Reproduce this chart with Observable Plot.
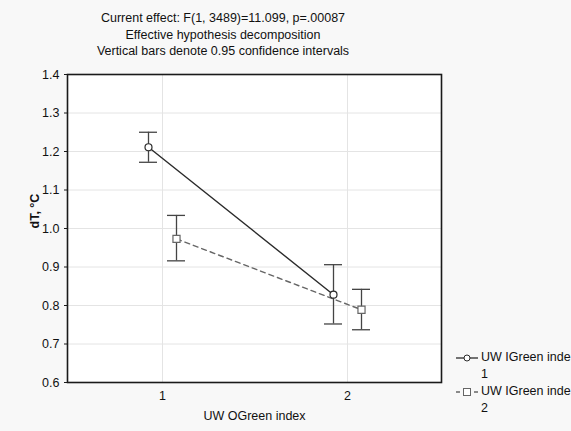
<!DOCTYPE html>
<html><head><meta charset="utf-8">
<script src="https://cdn.jsdelivr.net/npm/d3@7"></script>
<script src="https://cdn.jsdelivr.net/npm/@observablehq/plot@0.6"></script>
<style>
body{margin:0;background:#f8f8f8;font-family:"Liberation Sans",Arial,sans-serif;}
#wrap{position:relative;width:571px;height:431px;overflow:hidden;}
#chart{position:absolute;left:0;top:0;}
#title{position:absolute;left:0;top:10px;width:446px;text-align:center;font-size:12.5px;line-height:16.7px;color:#111;}
#legend{position:absolute;left:455px;top:349px;font-size:12.5px;color:#111;line-height:17px;}
#legend .row{display:flex;align-items:flex-start;}
#legend svg{flex:none;margin-top:3px;}
</style></head><body>
<div id="wrap"><div id="chart"></div><div id="title"></div><div id="legend"></div></div>
<script>
const titleLines = ["Current effect: F(1, 3489)=11.099, p=.00087","Effective hypothesis decomposition","Vertical bars denote 0.95 confidence intervals"];
const categories = ["1","2"];
const seriesNames = ["UW IGreen inde\n1","UW IGreen inde\n2"];
const means1 = [1.211, 0.828];
const lower1 = [1.172, 0.752];
const upper1 = [1.250, 0.906];
const means2 = [0.973, 0.789];
const lower2 = [0.916, 0.737];
const upper2 = [1.034, 0.842];
const yTicks = [0.6,0.7,0.8,0.9,1.0,1.1,1.2,1.3,1.4];
const xLabel = "UW OGreen index";
const yLabel = "dT, °C";

const s1 = categories.map((c,i)=>({cat:c, mean:means1[i], lo:lower1[i], hi:upper1[i]}));
const s2 = categories.map((c,i)=>({cat:c, mean:means2[i], lo:lower2[i], hi:upper2[i]}));

const c1 = "#2b2b2b", c2 = "#666", cb = "#444";
function errMarks(data, dx){
  return [
    Plot.ruleX(data,{x:"cat", y1:"lo", y2:"hi", dx, stroke:cb, strokeWidth:1.3}),
    Plot.tickY(data,{x:"cat", y:"lo", dx, stroke:cb, strokeWidth:1.3}),
    Plot.tickY(data,{x:"cat", y:"hi", dx, stroke:cb, strokeWidth:1.3})
  ];
}
const chart = Plot.plot({
  width:571, height:431,
  marginLeft:67, marginRight:130, marginTop:74, marginBottom:49,
  style:{background:"transparent", fontFamily:"Liberation Sans, Arial, sans-serif", fontSize:"12px", color:"#111"},
  x:{type:"band", domain:categories, paddingInner:0.903, paddingOuter:0.457, align:0.5},
  y:{domain:[0.6,1.4]},
  marks:[
    Plot.frame({fill:"white", stroke:null}),
    Plot.gridX(categories,{stroke:"#e4e4e4", strokeOpacity:1}),
    Plot.gridY(yTicks,{stroke:"#e4e4e4", strokeOpacity:1}),
    Plot.frame({stroke:"#1a1a1a", strokeWidth:1.6}),
    Plot.axisY(yTicks,{tickFormat:d3.format(".1f"), tickSize:3, tickPadding:5, label:null, stroke:"#1a1a1a", fontSize:12.5}),
    Plot.axisX({tickSize:0, tickPadding:9, label:null, fontSize:12.5}),
    Plot.text([yLabel],{frameAnchor:"left", rotate:-90, dx:-33, fontWeight:"bold", fontSize:12.5}),
    Plot.text([xLabel],{frameAnchor:"bottom", dy:37, fontSize:12.5}),
    Plot.line(s1,{x:"cat", y:"mean", dx:-14, stroke:c1, strokeWidth:1.4}),
    Plot.line(s2,{x:"cat", y:"mean", dx:14, stroke:c2, strokeWidth:1.4, strokeDasharray:"5,4"}),
    ...errMarks(s1,-14),
    ...errMarks(s2,14),
    Plot.dot(s1,{x:"cat", y:"mean", dx:-14, r:3.5, fill:"white", stroke:c1, strokeWidth:1.2}),
    Plot.dot(s2,{x:"cat", y:"mean", dx:14, r:4, symbol:"square", fill:"white", stroke:c2, strokeWidth:1.2})
  ]
});
document.getElementById("chart").appendChild(chart);
document.getElementById("title").innerHTML = titleLines.map(t=>`<div>${t}</div>`).join("");

const leg = document.getElementById("legend");
const sym = [
  `<svg width="24" height="12"><line x1="1" x2="23" y1="6" y2="6" stroke="${c1}" stroke-width="1.3"/><circle cx="12" cy="6" r="3" fill="white" stroke="${c1}"/></svg>`,
  `<svg width="24" height="12"><line x1="1" x2="23" y1="6" y2="6" stroke="${c2}" stroke-width="1.3" stroke-dasharray="4,5"/><rect x="8.5" y="2.5" width="7" height="7" fill="white" stroke="${c2}"/></svg>`
];
leg.innerHTML = seriesNames.map((n,i)=>`<div class="row">${sym[i]}<div style="margin-left:2px">${n.replace("\n","<br>")}</div></div>`).join("");
</script>
</body></html>
